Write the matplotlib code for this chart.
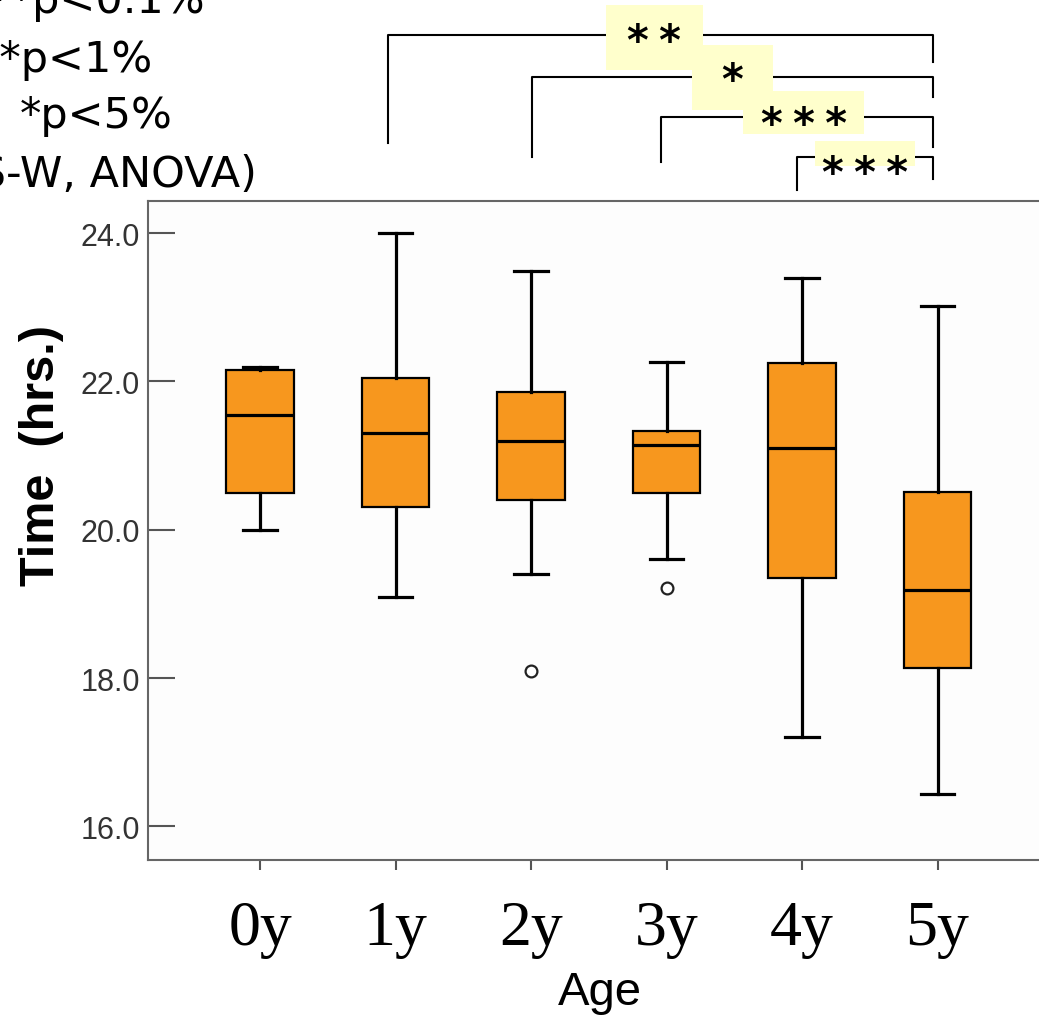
import matplotlib
matplotlib.use("Agg")
import matplotlib.pyplot as plt
from matplotlib.patches import Rectangle

# box statistics (hours)
ages = ["0y", "1y", "2y", "3y", "4y", "5y"]
whis_hi = [22.20, 24.00, 23.49, 22.26, 23.40, 23.02]
q3 = [22.15, 22.04, 21.85, 21.33, 22.25, 20.51]
median = [21.55, 21.30, 21.19, 21.14, 21.10, 19.19]
q1 = [20.50, 20.30, 20.40, 20.49, 19.35, 18.13]
whis_lo = [20.00, 19.09, 19.40, 19.60, 17.21, 16.44]
outliers = [[], [], [18.10], [19.21], [], []]

yticks = [16.0, 18.0, 20.0, 22.0, 24.0]

# significance brackets: (left group, right group, label)
sp = "\u2005"
comparisons = [(1, 5, "*" + sp + "*"), (2, 5, "*"), (3, 5, sp.join("***")), (4, 5, sp.join("***"))]
bracket_left_x = [0.947, 2.010, 2.957, 3.961]
bracket_right_x = [4.970, 4.970, 4.970, 4.970]
bracket_top = [26.67, 26.10, 25.56, 25.02]
left_leg_end = [25.21, 25.02, 24.96, 24.58]
right_leg_end = [26.30, 25.83, 25.16, 24.73]
# label position and yellow patch (x centre, y centre, width, height)
label_xy = [(2.905, 26.58), (3.487, 26.05), (4.011, 25.45), (4.465, 24.79)]
patch_box = [(2.909, 26.639, 0.714, 0.872), (3.485, 26.100, 0.598, 0.872),
             (4.011, 25.625, 0.889, 0.580), (4.465, 25.075, 0.736, 0.333)]

legend_lines = ["***p<0.1%", "**p<1%", "*p<5%", "(S-W, ANOVA)"]

fig = plt.figure(figsize=(10.39, 10.20), dpi=100)
ax = fig.add_axes([0.14244, 0.15618, 0.85756, 0.64608])
ax.set_facecolor("#fdfdfd")

stats = []
for i, a in enumerate(ages):
    stats.append(dict(label=a, med=median[i], q1=q1[i], q3=q3[i],
                      whislo=whis_lo[i], whishi=whis_hi[i], fliers=outliers[i]))

ax.bxp(stats, positions=range(len(ages)), widths=0.5, capwidths=0.25,
       patch_artist=True,
       boxprops=dict(facecolor="#F7971E", edgecolor="black", linewidth=1.6),
       medianprops=dict(color="black", linewidth=2.3),
       whiskerprops=dict(color="black", linewidth=2.3),
       capprops=dict(color="black", linewidth=2.3),
       flierprops=dict(marker="o", markerfacecolor="white", markeredgecolor="#222222",
                       markersize=8.5, markeredgewidth=1.6))

ax.set_xlim(-0.827, 5.749)
ax.set_ylim(15.55, 24.436)
ax.set_yticks(yticks)
ax.set_yticklabels(["%.1f" % t for t in yticks], fontsize=22, color="#333333",
                   family="Liberation Sans")
ax.set_xticks(range(len(ages)))
ax.set_xticklabels(ages, fontsize=46, family="Liberation Serif")
ax.tick_params(axis="y", direction="in", length=19.4, width=1.5, color="#555555", pad=6)
ax.tick_params(axis="x", direction="out", length=7.2, width=1.5, color="#555555", pad=22)

for side in ["left", "top", "bottom"]:
    ax.spines[side].set_color("#666666")
    ax.spines[side].set_linewidth(1.5)
ax.spines["right"].set_visible(False)

ax.set_ylabel("Time  (hrs.)", fontsize=35, fontweight="bold", family="Liberation Sans")
ax.yaxis.set_label_coords(-0.119, 0.615)
ax.yaxis.label.set_va("center")
ax.set_xlabel("Age", fontsize=34, family="Liberation Sans")
ax.xaxis.set_label_coords(0.507, -0.168)
ax.xaxis.label.set_va("top")

# brackets above the plot
for k in range(len(comparisons)):
    xa, xb = bracket_left_x[k], bracket_right_x[k]
    ax.plot([xa, xa, xb, xb], [left_leg_end[k], bracket_top[k], bracket_top[k], right_leg_end[k]],
            color="black", lw=1.5, clip_on=False, zorder=3)
for k, (xc, yc, w, h) in enumerate(patch_box):
    ax.add_patch(Rectangle((xc - w / 2, yc - h / 2), w, h, facecolor="#FFFFCC",
                           edgecolor="none", clip_on=False, zorder=4))
for k, (a, b, lab) in enumerate(comparisons):
    ax.text(label_xy[k][0], label_xy[k][1], lab, fontsize=30, family="DejaVu Sans",
            fontweight="bold", ha="center", va="center", clip_on=False, zorder=5)

# significance legend (partly cut off at the left edge)
legend_right = [205, 153, 173, 257]
legend_base = [13, 72, 128, 187]
for txt, xr, yb in zip(legend_lines, legend_right, legend_base):
    fig.text(xr / 1039, 1 - yb / 1020, txt, fontsize=31, family="DejaVu Sans",
             ha="right", va="baseline")

fig.savefig("out.png", dpi=100)
